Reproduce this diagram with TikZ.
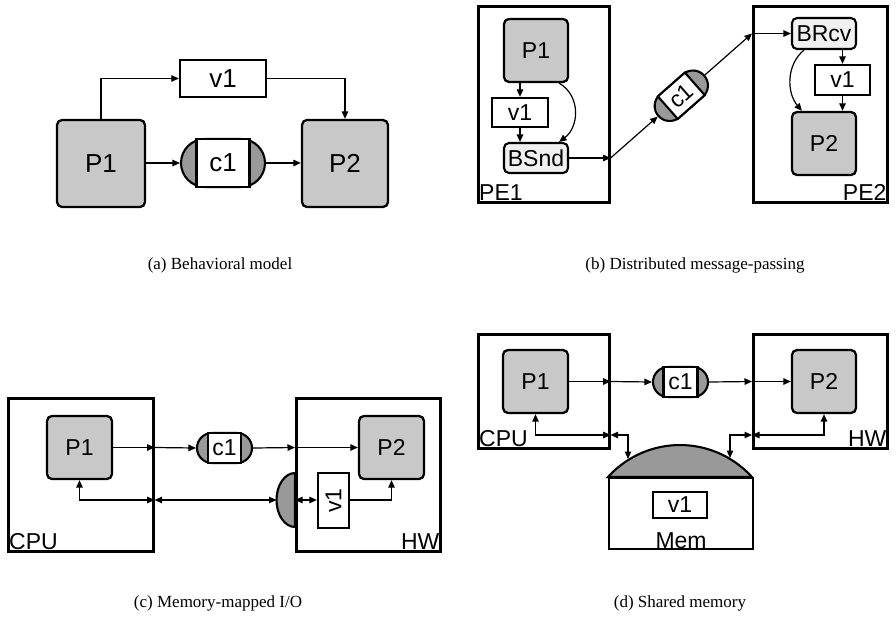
\documentclass[tikz,border=0pt]{standalone}
\usepackage{fontspec}
\setmainfont{Liberation Serif}
\newfontfamily\labfont{Liberation Sans}
\usetikzlibrary{shapes.misc,arrows.meta,calc}
\definecolor{pgray}{HTML}{C8C8C8}
\definecolor{cgray}{HTML}{999999}
\definecolor{bgray}{HTML}{F0F0F0}
\tikzset{
  lbig/.style={font=\labfont\fontsize{26}{26}\selectfont},
  lsmall/.style={font=\labfont\fontsize{23}{23}\selectfont},
  proc/.style={draw, rounded corners=5pt, fill=pgray, line width=2.3pt, inner sep=0pt},
  vbuf/.style={draw, fill=white, line width=2.3pt, inner sep=0pt},
  bfun/.style={draw, rounded corners=5pt, fill=bgray, line width=2.1pt, inner sep=0pt},
  cont/.style={draw, line width=2.6pt, inner sep=0pt},
  chan/.style={rounded rectangle, draw, fill=cgray, line width=2.1pt, inner sep=0pt},
  chanmid/.style={rectangle, draw, fill=white, line width=2.1pt, inner sep=0pt},
  arr/.style={line width=1.2pt, -{Triangle[length=7.5pt,width=6.5pt]}},
  darr/.style={line width=1.2pt, {Triangle[length=7.5pt,width=6.5pt]}-{Triangle[length=7.5pt,width=6.5pt]}},
  capt/.style={font=\fontsize{17}{17}\selectfont, inner sep=0pt},
  contlab/.style={lsmall, inner xsep=2pt, inner ysep=3pt}
}
\begin{document}
\begin{tikzpicture}[x=1pt,y=-1pt]
\useasboundingbox (0,0) rectangle (896,619);

% ---------------- (a) ----------------
\node[proc, lbig, minimum width=88pt, minimum height=87pt] (aP1) at (101,163.5) {P1};
\node[proc, lbig, minimum width=86pt, minimum height=87pt] (aP2) at (345,163.5) {P2};
\node[vbuf, lbig, minimum width=86pt, minimum height=37pt] (av1) at (223,78.5) {v1};
\node[chan, minimum width=84pt, minimum height=48pt] (ac1) at (223,163) {};
\node[chanmid, lbig, minimum width=53pt, minimum height=48pt] (ac1t) at (ac1) {c1};
\draw[arr] (aP1.north) |- (av1.west);
\draw[arr] (av1.east) -| (aP2.north);
\draw[arr] (aP1.east |- ac1.west) -- (ac1.west);
\draw[arr] (ac1.east) -- (aP2.west |- ac1.east);
\node[capt] (capa) at (220,265) {(a) Behavioral model};

% ---------------- (b) ----------------
\node[cont, minimum width=131pt, minimum height=196pt, anchor=north west] (PE1) at (477,5) {};
\node[cont, minimum width=134pt, minimum height=196pt, anchor=north west] (PE2) at (752,5) {};
\node[contlab, anchor=south west] (PE1l) at (PE1.south west) {PE1};
\node[contlab, anchor=south east] (PE2l) at (PE2.south east) {PE2};
\node[proc, lsmall, minimum width=64pt, minimum height=63pt] (bP1) at (536,50.5) {P1};
\node[vbuf, lsmall, minimum width=56pt, minimum height=29pt] (bv1) at (520,112.5) {v1};
\node[bfun, lsmall, minimum width=64pt, minimum height=30pt] (bS) at (536,158) {BSnd};
\draw[arr] (bv1.north |- bP1.south) -- (bv1.north);
\draw[arr] (bv1.south) -- (bv1.south |- bS.north);
\draw[arr] ([xshift=-10pt]bP1.south east) .. controls +(22,13) and +(20,-15) .. ([xshift=-10pt]bS.north east);

\node[bfun, lsmall, minimum width=64pt, minimum height=31pt] (bR) at (824,33.5) {BRcv};
\node[vbuf, lsmall, minimum width=55pt, minimum height=30pt] (bv2) at (842.5,80) {v1};
\node[proc, lsmall, minimum width=64pt, minimum height=63pt] (bP2) at (824,143.5) {P2};
\draw[arr] (bv2.north |- bR.south) -- (bv2.north);
\draw[arr] (bv2.south) -- (bv2.south |- bP2.north);
\draw[arr] ([xshift=13pt]bR.south west) .. controls +(-18,15) and +(-15,-18) .. ([xshift=11pt]bP2.north west);

\coordinate (be1) at (PE1.east |- bS.east);
\coordinate (be2) at (PE2.west |- bR.west);
\path (be1) -- (be2) node[midway, sloped, chan, minimum width=61pt, minimum height=30pt] (bc1) {};
\path (be1) -- (be2) node[midway, sloped, chanmid, lsmall, minimum width=36pt, minimum height=30pt] (bc1t) {c1};
\draw[arr] (bS.east) -- (be1);
\draw[arr] (be1) -- (bc1.west);
\draw[arr] (bc1.east) -- (be2);
\draw[arr] (be2) -- (bR.west);
\node[capt] (capb) at (695,265) {(b) Distributed message-passing};

% ---------------- (c) ----------------
\draw[fill=cgray, line width=2.1pt] (295,473) arc[start angle=-90, end angle=-270, x radius=18.5, y radius=27] -- cycle;
\node[cont, minimum width=145pt, minimum height=153pt, anchor=north west] (cCPU) at (7,397) {};
\node[cont, minimum width=144pt, minimum height=153pt, anchor=north west] (cHW) at (295,397) {};
\node[contlab, anchor=south west] (cCPUl) at (cCPU.south west) {CPU};
\node[contlab, anchor=south east] (cHWl) at (cHW.south east) {HW};
\node[proc, lsmall, minimum width=65pt, minimum height=63pt] (cP1) at (79.5,447.5) {P1};
\node[proc, lsmall, minimum width=65pt, minimum height=63pt] (cP2) at (391.5,447.5) {P2};
\node[chan, minimum width=55pt, minimum height=30pt] (cc1) at (224.5,448) {};
\node[chanmid, lsmall, minimum width=33pt, minimum height=30pt] (cc1t) at (cc1) {c1};
\node[vbuf, lsmall, minimum width=31pt, minimum height=55pt] (cv1) at (333.5,500.5) {\rotatebox{90}{v1}};
\coordinate (ce1) at (cCPU.east |- cP1.east);
\coordinate (ce2) at (cHW.west |- cP2.west);
\coordinate (cdk) at (276.5,500);
\coordinate (cb1) at (cCPU.east |- cdk);
\coordinate (ce3) at (cHW.west |- cdk);
\draw[arr] (cP1.east) -- (ce1);
\draw[arr] (ce1) -- (cc1.west);
\draw[arr] (cc1.east) -- (ce2);
\draw[arr] (ce2) -- (cP2.west);
\draw[darr] (cP1.south) |- (cb1);
\draw[darr] (cb1) -- (cdk);
\draw[darr] (ce3) -- (cv1.west |- ce3);
\draw[arr] (cv1.east |- ce3) -| (cP2.south);
\node[capt] (capc) at (218,603) {(c) Memory-mapped I/O};

% ---------------- (d) ----------------
\node[cont, minimum width=131pt, minimum height=114pt, anchor=north west] (dCPU) at (477,333) {};
\node[cont, minimum width=134pt, minimum height=114pt, anchor=north west] (dHW) at (752,333) {};
\node[contlab, anchor=south west] (dCPUl) at (dCPU.south west) {CPU};
\node[contlab, anchor=south east] (dHWl) at (dHW.south east) {HW};
\node[proc, lsmall, minimum width=65pt, minimum height=63pt] (dP1) at (535.5,381.5) {P1};
\node[proc, lsmall, minimum width=64pt, minimum height=63pt] (dP2) at (824,381.5) {P2};
\node[chan, minimum width=55pt, minimum height=30pt] (dc1) at (680.5,382) {};
\node[chanmid, lsmall, minimum width=34pt, minimum height=30pt] (dc1t) at (dc1) {c1};
\draw[fill=cgray, line width=2.1pt] (608,477) arc[start angle=-137.9, end angle=-42.1, radius=97] -- cycle;
\node[draw, line width=2.1pt, minimum width=144pt, minimum height=71pt, anchor=north west] (dMem) at (608,477) {};
\node[vbuf, lsmall, minimum width=54pt, minimum height=26pt] (dv1) at (680,505) {v1};
\node[lsmall, anchor=south, inner sep=1pt] (dMeml) at (dMem.south) {Mem};
\coordinate (de1) at (dCPU.east |- dP1.east);
\coordinate (de2) at (dHW.west |- dP2.west);
\coordinate (dbus) at (0,435);
\coordinate (db1) at (dCPU.east |- dbus);
\coordinate (db2) at (dHW.west |- dbus);
\coordinate (dm1) at (628,459);
\coordinate (dm2) at (730,458);
\draw[arr] (dP1.east) -- (de1);
\draw[arr] (de1) -- (dc1.west);
\draw[arr] (dc1.east) -- (de2);
\draw[arr] (de2) -- (dP2.west);
\draw[darr] (dP1.south) |- (db1);
\draw[darr] (db1) -| (dm1);
\draw[darr] (dP2.south) |- (db2);
\draw[darr] (db2) -| (dm2);
\node[capt] (capd) at (680,603) {(d) Shared memory};
\end{tikzpicture}
\end{document}
